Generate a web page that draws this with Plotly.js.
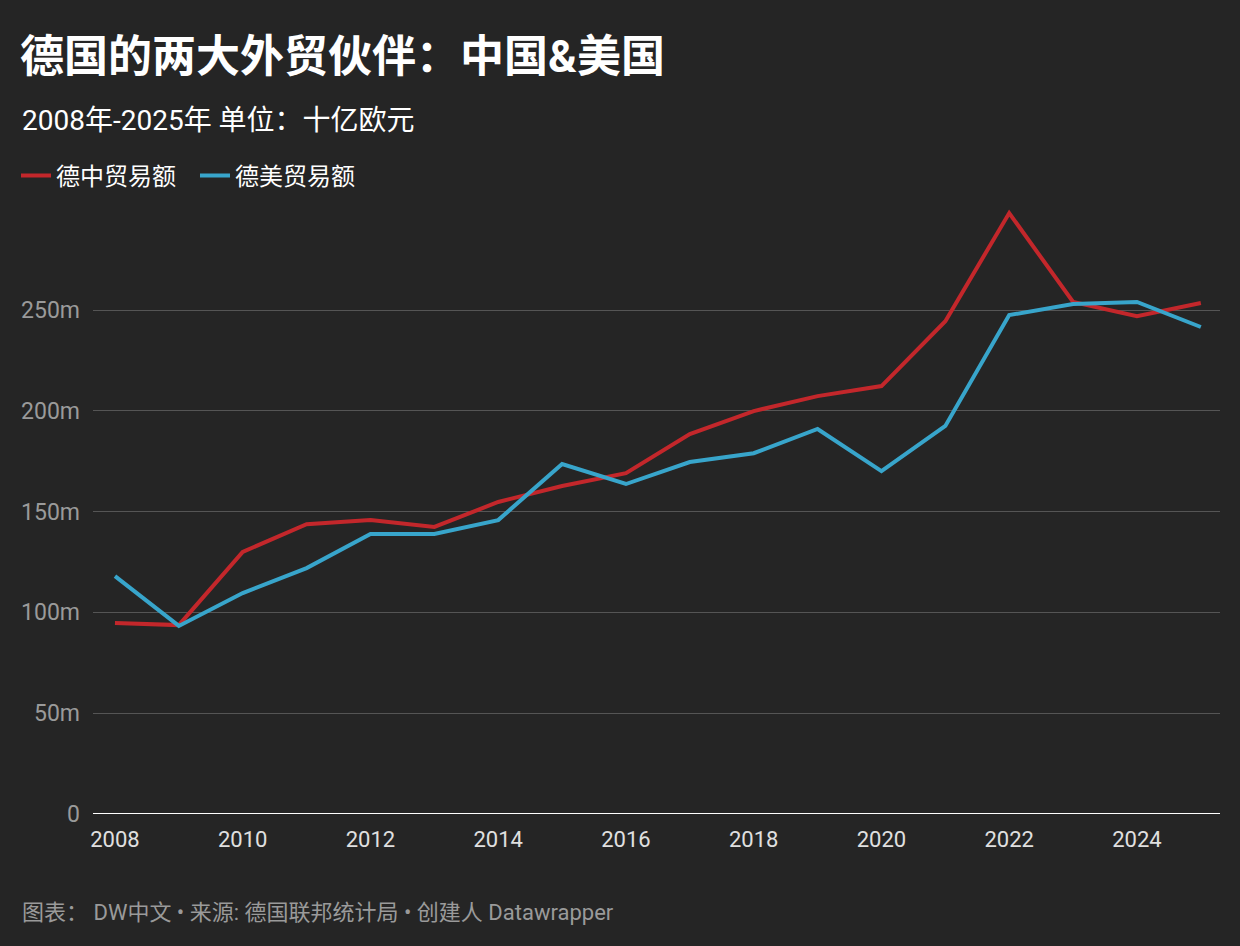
<!DOCTYPE html>
<html>
<head>
<meta charset="utf-8">
<script src="https://cdn.plot.ly/plotly-3.0.1.min.js"></script>
<style>
html,body{margin:0;padding:0;background:#252525;}
#chart{width:1240px;height:946px;}
</style>
</head>
<body>
<div id="chart"></div>
<script>
const years = [2008,2009,2010,2011,2012,2013,2014,2015,2016,2017,2018,2019,2020,2021,2022,2023,2024,2025];
const chinaTrade = [94.7,93.7,130,143.8,145.8,142.4,154.8,162.7,169.1,188.5,199.9,207.3,212.3,244.5,298.1,254,247,253.5];
const usTrade = [118,93.3,109.6,122,138.9,138.9,145.8,173.6,163.7,174.6,179,191,170.1,192.5,247.5,253,254,241.6];
const seriesNames = ['德中贸易额','德美贸易额'];
const yTickVals = [0,50,100,150,200,250];
const yTickText = ['0','50m','100m','150m','200m','250m'];
const xTickVals = [2008,2010,2012,2014,2016,2018,2020,2022,2024];

const FONT = 'Roboto, "Noto Sans CJK SC", sans-serif';
const W = 1240, H = 946;

const traces = [
  {x: years, y: chinaTrade, name: seriesNames[0], type: 'scatter', mode: 'lines',
   line: {color: '#c3272b', width: 4}},
  {x: years, y: usTrade, name: seriesNames[1], type: 'scatter', mode: 'lines',
   line: {color: '#38a5cb', width: 4}}
];

const layout = {
  width: W, height: H,
  paper_bgcolor: '#252525', plot_bgcolor: '#252525',
  margin: {l: 93, r: 20, t: 200, b: 132},
  font: {family: FONT, color: '#ffffff'},
  title: {
    text: '<b>德国的两大外贸伙伴：中国&美国</b>',
    font: {family: FONT, size: 44, color: '#ffffff'},
    xref: 'container', yref: 'container',
    x: 20/W, xanchor: 'left', y: 1 - 57/H, yanchor: 'middle'
  },
  showlegend: true,
  legend: {
    orientation: 'h', xref: 'container', yref: 'container',
    x: 16/W, xanchor: 'left', y: 1 - 176/H, yanchor: 'middle',
    font: {family: FONT, size: 24, color: '#ffffff'},
    bgcolor: 'rgba(0,0,0,0)', itemclick: false, itemdoubleclick: false,
    entrywidthmode: 'pixels', entrywidth: 134
  },
  xaxis: {
    range: [2007.656, 2025.3],
    tickvals: xTickVals,
    ticktext: xTickVals.map(String),
    showgrid: false, zeroline: false, showline: false,
    ticks: 'outside', ticklen: 6, tickcolor: 'rgba(0,0,0,0)',
    tickfont: {family: FONT, size: 22, color: '#e0e0e0'},
    fixedrange: true
  },
  yaxis: {
    range: [0, 304.6],
    tickvals: yTickVals, ticktext: yTickText,
    showgrid: true, gridcolor: '#555555', gridwidth: 1,
    zeroline: false, showline: false,
    ticks: '', ticklabelstandoff: 12,
    tickfont: {family: FONT, size: 23, color: '#9a9a9a'},
    fixedrange: true
  },
  shapes: [
    {type: 'line', xref: 'paper', yref: 'y', x0: 0, x1: 1, y0: 0, y1: 0,
     line: {color: '#ffffff', width: 2}}
  ],
  annotations: [
    {text: '2008年-2025年 单位：十亿欧元', xref: 'paper', yref: 'paper',
     x: (20-93)/(W-93-20), xanchor: 'left', y: 1 + (200-121)/(H-200-132), yanchor: 'middle',
     showarrow: false, font: {family: FONT, size: 28, color: '#ffffff'}},
    {text: '图表： DW中文 • 来源: 德国联邦统计局 • 创建人 Datawrapper', xref: 'paper', yref: 'paper',
     x: (20-93)/(W-93-20), xanchor: 'left', y: -(912-814)/(H-200-132), yanchor: 'middle',
     showarrow: false, font: {family: FONT, size: 22, color: '#9a9a9a'}}
  ]
};

Plotly.newPlot('chart', traces, layout, {staticPlot: true, displayModeBar: false});
</script>
</body>
</html>
